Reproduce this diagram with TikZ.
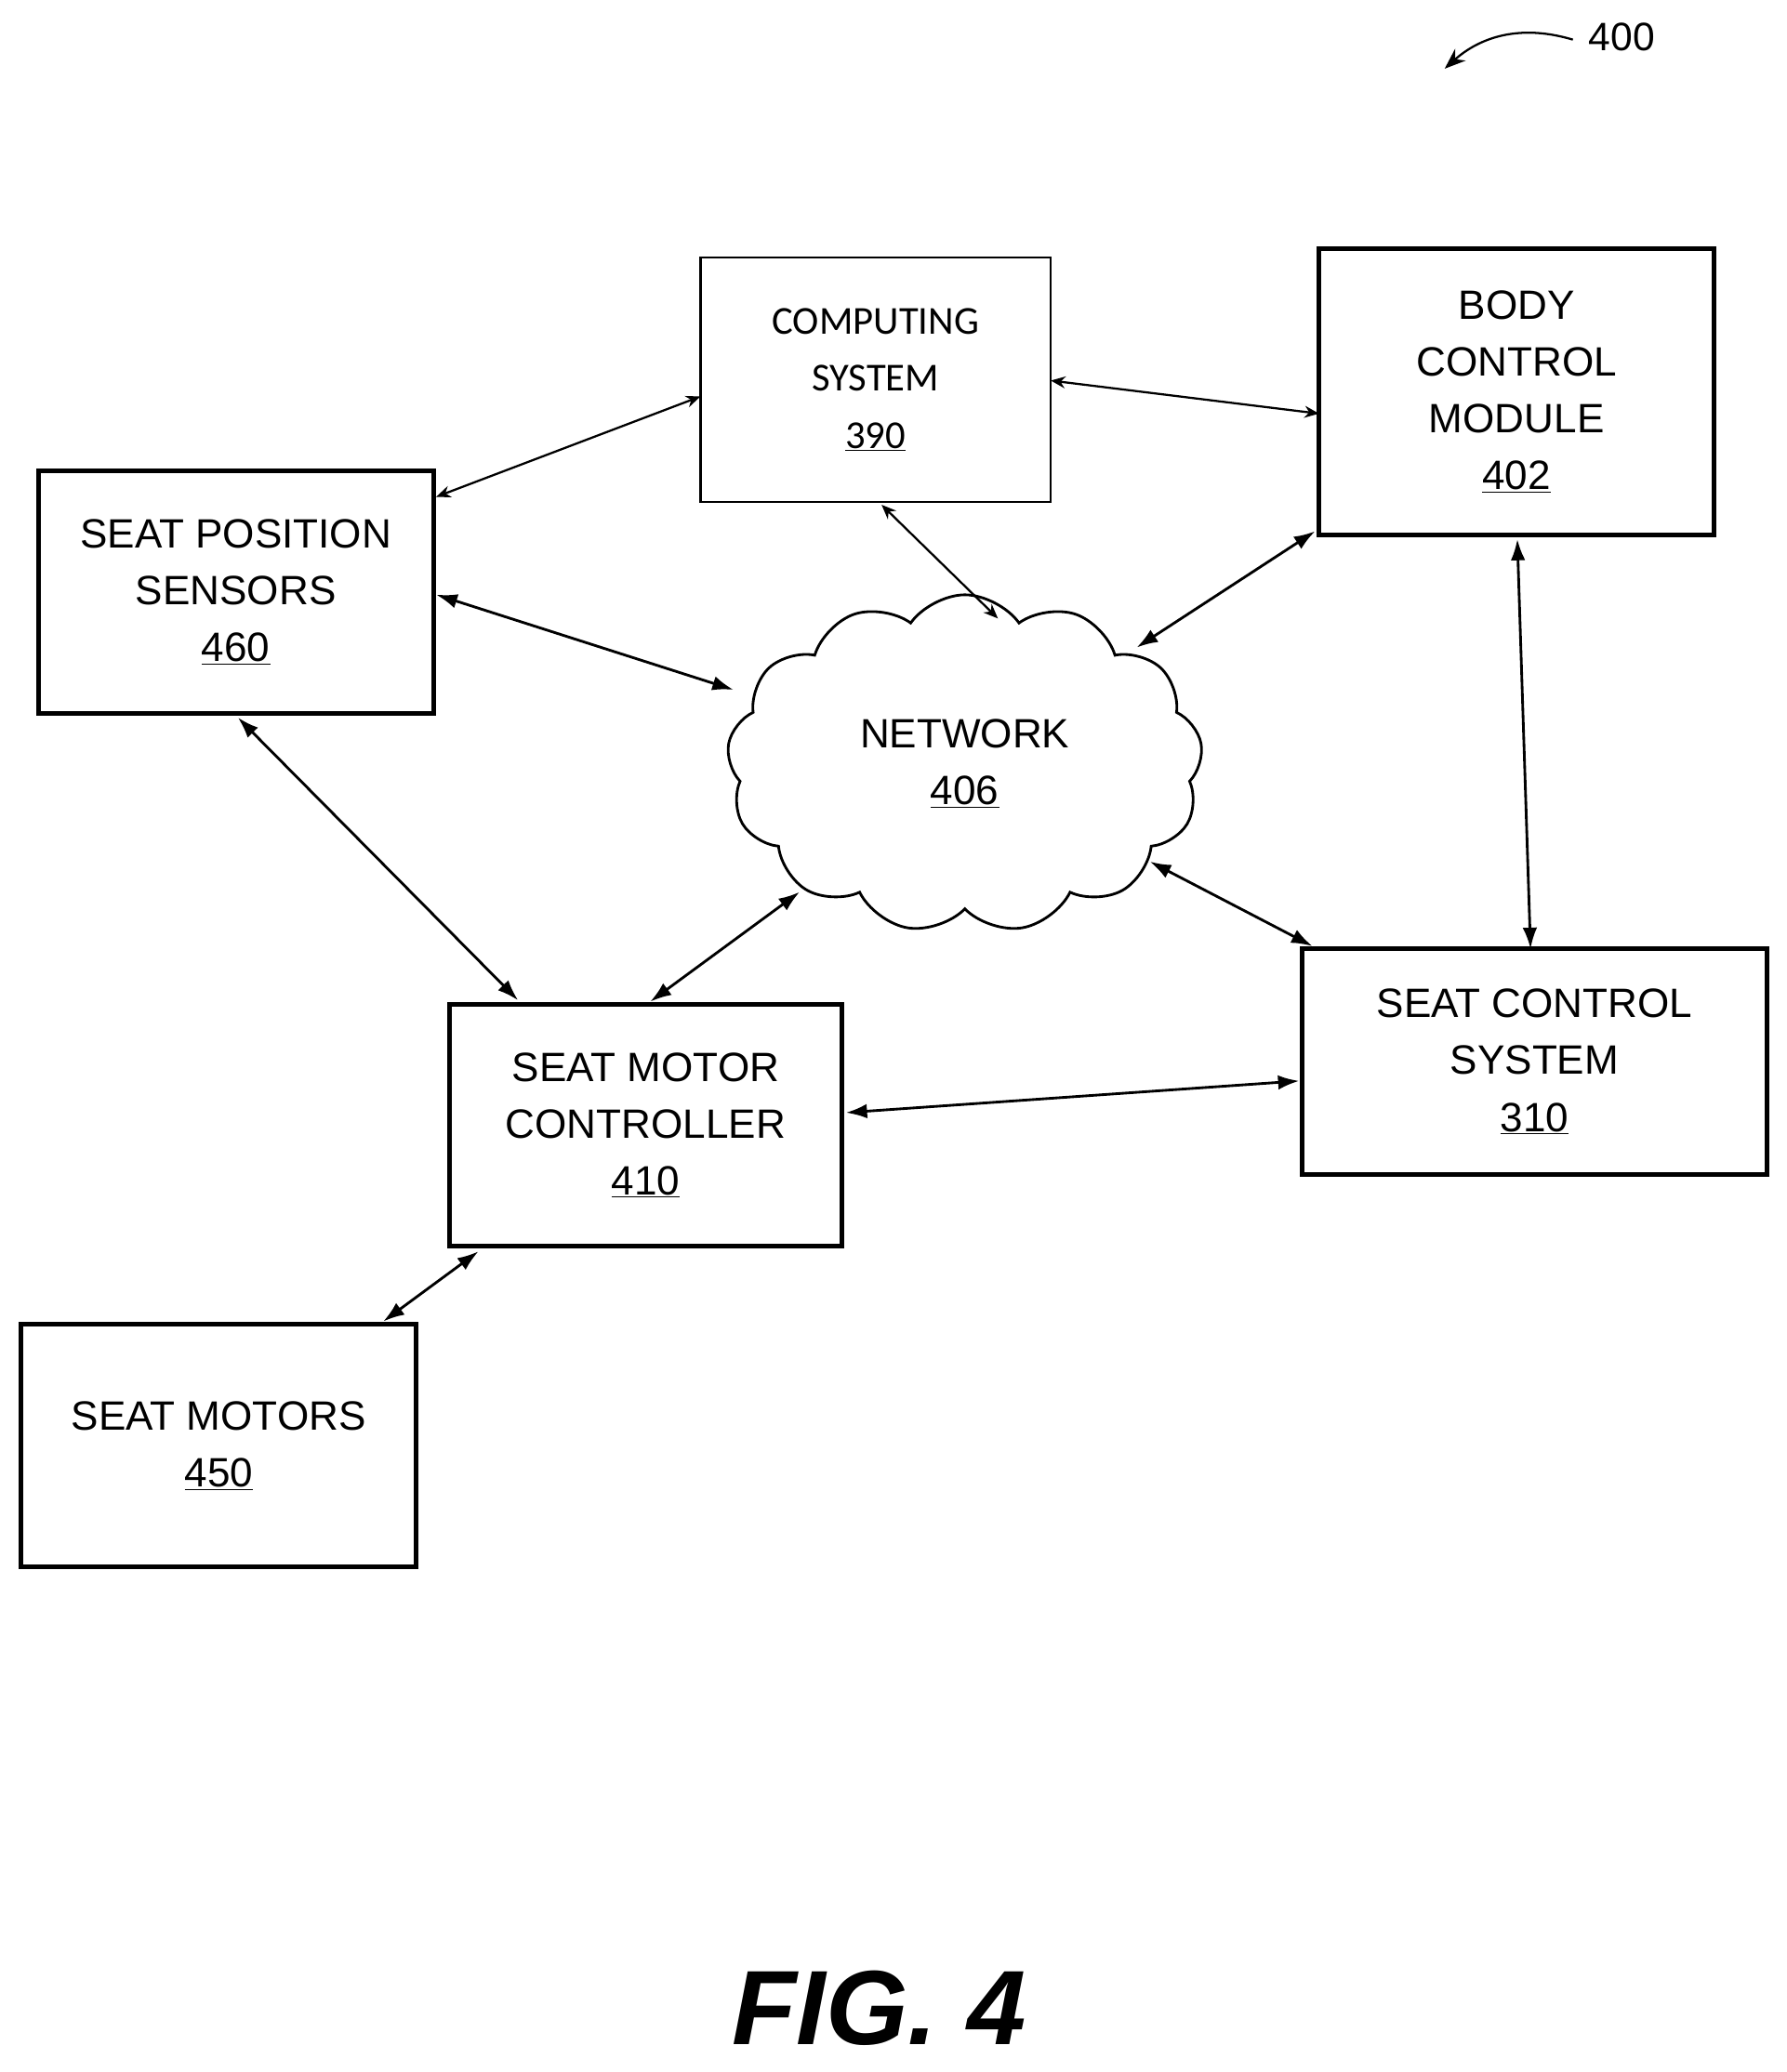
\documentclass[tikz,border=0pt]{standalone}
\usepackage{fontspec}
\setmainfont{Liberation Sans}
\newfontfamily\mycalfont{Carlito}
\usetikzlibrary{shapes.symbols,arrows.meta}
\begin{document}
\begin{tikzpicture}[x=1pt,y=-1pt,
 box/.style={draw,line width=3.5pt,align=center,inner sep=0pt,font=\fontsize{31}{43}\selectfont},
 con/.style={line width=2pt,{Latex[length=16pt,width=11pt]}-{Latex[length=16pt,width=11pt]}},
 thin/.style={line width=1.6pt,{Stealth[length=11pt,width=9pt]}-{Stealth[length=11pt,width=9pt]}}]
\useasboundingbox (0,0) rectangle (1352,1568);
\node[draw,line width=1.6pt,minimum width=265pt,minimum height=185pt,align=center,font=\mycalfont\fontsize{30}{43}\selectfont] (cs) at (662.5,287.5) {COMPUTING\\SYSTEM\\\underline{390}};
\node[box,minimum width=299pt,minimum height=217pt] (bcm) at (1147.5,296.5) {BODY\\CONTROL\\MODULE\\\underline{402}};
\node[box,minimum width=299pt,minimum height=184pt] (sps) at (178.5,448) {SEAT POSITION\\SENSORS\\\underline{460}};
\node[draw,line width=2pt,cloud,cloud puffs=13,cloud puff arc=110,minimum width=360pt,minimum height=245pt,align=center,font=\fontsize{31}{43}\selectfont] (net) at (730,578) {NETWORK\\\underline{406}};
\node[box,minimum width=297pt,minimum height=183pt] (smc) at (488.5,851.5) {SEAT MOTOR\\CONTROLLER\\\underline{410}};
\node[box,minimum width=352pt,minimum height=171pt] (scs) at (1161,803.5) {SEAT CONTROL\\SYSTEM\\\underline{310}};
\node[box,minimum width=299pt,minimum height=184pt] (sm) at (165.5,1094) {SEAT MOTORS\\\underline{450}};
\node[font=\bfseries\itshape\fontsize{80}{90}\selectfont] (fig) at (665,1520) {FIG. 4};
\node[font=\fontsize{30}{36}\selectfont] (lbl) at (1227,28) {400};
\coordinate (lt) at (1190,30);
\draw[line width=1.6pt,-{Stealth[length=16pt,width=12pt]}] (lt) .. controls (1150,18) and (1120,28) .. (1093,52);
\coordinate (a1) at (330,376); \coordinate (a2) at (530,300);
\coordinate (a3) at (795,288); \coordinate (a4) at (998,313);
\draw[thin] (a1) -- (a2);
\draw[thin] (a3) -- (a4);
\draw[thin] (667,382) coordinate (c1) -- (755,468) coordinate (c2);
\draw[con] (330,450) coordinate (s1) -- (555,522) coordinate (n1);
\draw[con] (995,402) coordinate (b1) -- (860,490) coordinate (n2);
\draw[con] (1148,408) coordinate (b2) -- (1158,718) coordinate (s2);
\draw[con] (180,543) coordinate (s3) -- (392,757) coordinate (m1);
\draw[con] (605,675) coordinate (n3) -- (492,758) coordinate (m2);
\draw[con] (870,652) coordinate (n4) -- (993,716) coordinate (s4);
\draw[con] (640,842) coordinate (m3) -- (983,818) coordinate (s5);
\draw[con] (362,947) coordinate (m4) -- (290,1000) coordinate (s6);
\end{tikzpicture}
\end{document}
